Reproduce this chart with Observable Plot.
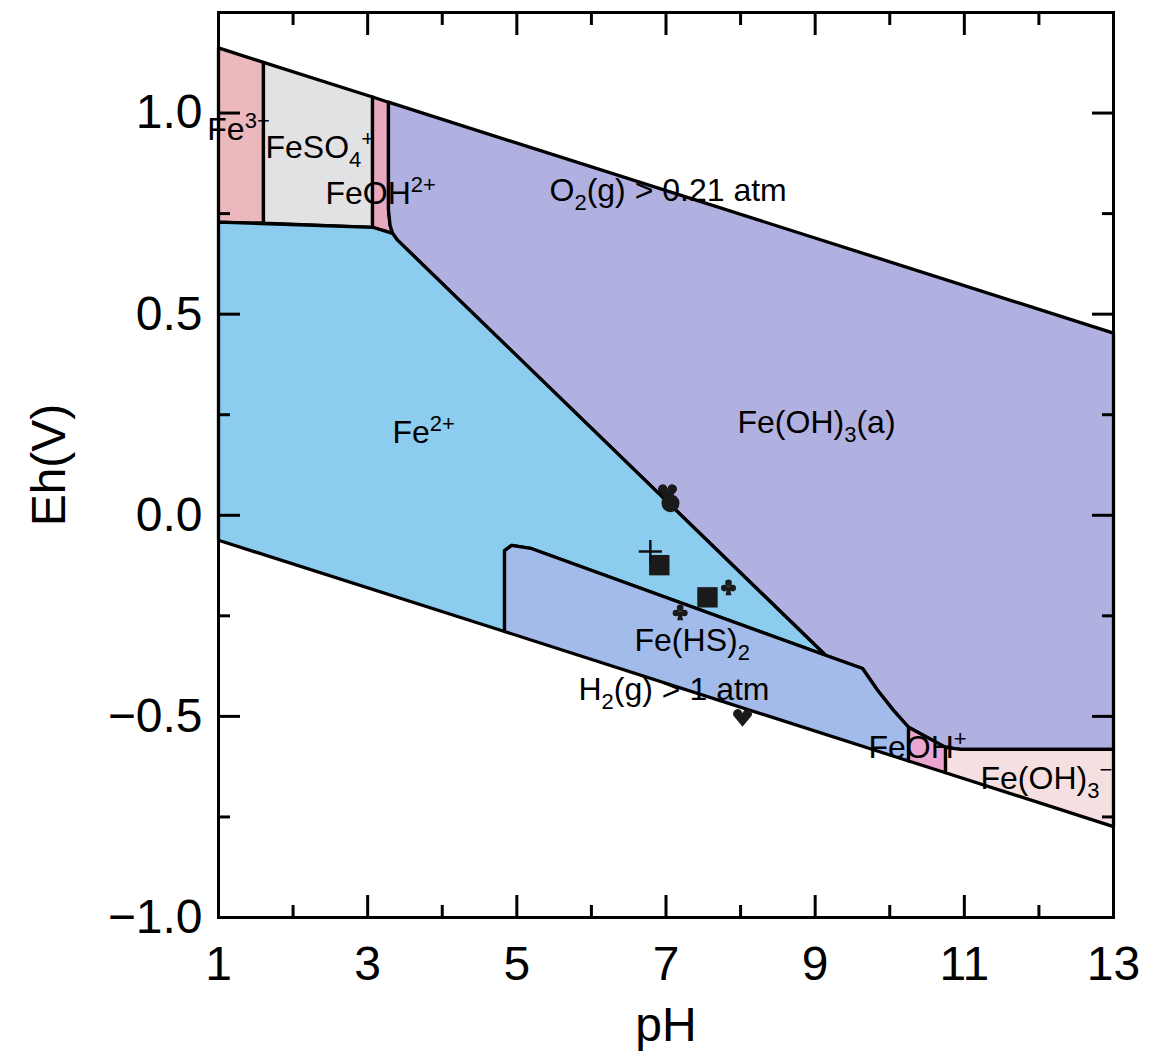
<!DOCTYPE html>
<html><head><meta charset="utf-8">
<script src="https://cdn.jsdelivr.net/npm/d3@7"></script>
<script src="https://cdn.jsdelivr.net/npm/@observablehq/plot@0.6"></script>
<style>body{margin:0;background:#fff} svg{display:block}</style>
</head><body><div id="chart"></div>
<script>
// axis ticks
const xMajor = [1, 3, 5, 7, 9, 11, 13];
const xMinor = [2, 4, 6, 8, 10, 12];
const yMajor = [-1, -0.5, 0, 0.5, 1];
const yMinor = [-0.75, -0.25, 0.25, 0.75];

// stability fields (pH, Eh)
const regionNames = ["Fe3+", "FeSO4+", "FeOH2+", "Fe(OH)3(a)", "Fe2+", "Fe(HS)2", "FeOH+", "Fe(OH)3-"];
const regionColors = ["#ebb9bd", "#e2e2e5", "#e8a9c0", "#b1b1e1", "#8ccdef", "#a3bbea", "#eba6cf", "#f5dfe0"];
const fe3Poly = [[1, 1.162], [1.603, 1.126], [1.603, 0.726], [1, 0.729]];
const feso4Poly = [[1.603, 1.126], [3.065, 1.040], [3.065, 0.716], [1.603, 0.726]];
const feoh2Poly = [[3.065, 1.040], [3.279, 1.027], [3.279, 0.760], [3.30, 0.722], [3.333, 0.701], [3.065, 0.716]];
const feoh3aPoly = [[3.279, 1.027], [13, 0.453], [13, -0.582], [10.95, -0.582], [10.748, -0.577], [10.252, -0.527],
  [10.05, -0.485], [9.836, -0.435], [9.635, -0.381], [9.139, -0.348], [3.40, 0.684], [3.333, 0.701], [3.30, 0.722], [3.279, 0.760]];
const fe2Poly = [[1, 0.729], [3.065, 0.716], [3.333, 0.701], [3.40, 0.684], [9.139, -0.348], [5.183, -0.082],
  [4.93, -0.075], [4.835, -0.088], [4.835, -0.289], [1, -0.062]];
const fehs2Poly = [[4.835, -0.289], [4.835, -0.088], [4.93, -0.075], [5.183, -0.082], [9.139, -0.348], [9.635, -0.381],
  [9.836, -0.435], [10.05, -0.485], [10.252, -0.527], [10.252, -0.611]];
const feohPoly = [[10.252, -0.527], [10.748, -0.577], [10.748, -0.640], [10.252, -0.611]];
const feoh3mPoly = [[10.748, -0.577], [10.95, -0.582], [13, -0.582], [13, -0.774], [10.748, -0.640]];
const polys = [fe3Poly, feso4Poly, feoh2Poly, feoh3aPoly, fe2Poly, fehs2Poly, feohPoly, feoh3mPoly];

// field labels
const labelText = ["Fe^{3+}", "FeSO_{4}^{+}", "FeOH^{2+}", "O_{2}(g) > 0.21 atm", "Fe^{2+}", "Fe(OH)_{3}(a)",
  "Fe(HS)_{2}", "H_{2}(g) > 1 atm", "FeOH^{+}", "Fe(OH)_{3}^{−}"];
const labelPH = [0.85, 1.630, 2.435, 5.438, 3.333, 7.959, 6.578, 5.827, 9.715, 11.217];
const labelEh = [0.958, 0.913, 0.799, 0.808, 0.204, 0.231, -0.311, -0.435, -0.577, -0.654];

// sample points
const markerType = ["heart", "circle", "plus", "square", "square", "club", "club", "heart"];
const markerPH = [7.02, 7.06, 6.79, 6.91, 7.556, 7.838, 7.19, 8.026];
const markerEh = [0.057, 0.030, -0.090, -0.124, -0.204, -0.179, -0.241, -0.502];

const rows = [];
polys.forEach((p, i) => p.forEach(([x, y]) => rows.push({region: regionNames[i], color: regionColors[i], pH: x, Eh: y})));
const labels = labelText.map((t, i) => ({t, pH: labelPH[i], Eh: labelEh[i]}));
const markers = markerType.map((t, i) => ({t, pH: markerPH[i], Eh: markerEh[i]}));
const of = (t) => markers.filter(m => m.t === t);

// heart- and club-shaped dot symbols
const heartSymbol = {
  draw(ctx, size) {
    const r = Math.sqrt(size / Math.PI);
    ctx.moveTo(0, r);
    ctx.lineTo(-0.95 * r, -0.15 * r);
    ctx.arc(-0.5 * r, -0.35 * r, 0.5 * r, 2.72, 2 * Math.PI, false);
    ctx.arc(0.5 * r, -0.35 * r, 0.5 * r, Math.PI, 2 * Math.PI + 0.418, false);
    ctx.closePath();
  }
};
const clubSymbol = {
  draw(ctx, size) {
    const r = Math.sqrt(size / Math.PI), c = 0.33 * r;
    for (const [cx, cy] of [[0, -0.45 * r], [-0.42 * r, 0.08 * r], [0.42 * r, 0.08 * r]]) {
      ctx.moveTo(cx + c, cy);
      ctx.arc(cx, cy, c, 0, 2 * Math.PI);
    }
    ctx.moveTo(-0.08 * r, -0.1 * r);
    ctx.lineTo(0.08 * r, -0.1 * r);
    ctx.lineTo(0.3 * r, 0.8 * r);
    ctx.lineTo(-0.3 * r, 0.8 * r);
    ctx.closePath();
  }
};

const tickAxes = [];
for (const a of ["bottom", "top"]) {
  tickAxes.push(Plot.axisX(xMajor, {anchor: a, tickSize: -22, strokeWidth: 3, tickFormat: () => "", label: null}));
  tickAxes.push(Plot.axisX(xMinor, {anchor: a, tickSize: -12, strokeWidth: 3, tickFormat: () => "", label: null}));
}
for (const a of ["left", "right"]) {
  tickAxes.push(Plot.axisY(yMajor, {anchor: a, tickSize: -22, strokeWidth: 3, tickFormat: () => "", label: null}));
  tickAxes.push(Plot.axisY(yMinor, {anchor: a, tickSize: -12, strokeWidth: 3, tickFormat: () => "", label: null}));
}

const plot = Plot.plot({
  width: 1156, height: 1063,
  marginLeft: 218, marginRight: 43, marginTop: 12, marginBottom: 146,
  style: {fontFamily: "'Liberation Sans', Arial, sans-serif", background: "white", color: "black"},
  x: {domain: [1, 13], label: null},
  y: {domain: [-1, 1.25], label: null},
  color: {type: "identity"},
  marks: [
    Plot.line(rows, {x: "pH", y: "Eh", z: "region", fill: "color", stroke: "black", strokeWidth: 3.3, curve: "linear-closed", strokeLinejoin: "round"}),
    Plot.text(labels, {x: "pH", y: "Eh", text: "t", textAnchor: "start", fontSize: 32, fill: "black"}),
    Plot.dot(of("heart"), {x: "pH", y: "Eh", r: 9.5, fill: "#1a1a1a", symbol: heartSymbol}),
    Plot.dot(of("circle"), {x: "pH", y: "Eh", r: 9, fill: "#1a1a1a", symbol: "circle"}),
    Plot.dot(of("square"), {x: "pH", y: "Eh", r: 11.5, fill: "#1a1a1a", symbol: "square"}),
    Plot.dot(of("plus"), {x: "pH", y: "Eh", r: 7.5, stroke: "#111", strokeWidth: 2.5, symbol: "plus"}),
    Plot.dot(of("club"), {x: "pH", y: "Eh", r: 10, fill: "#1a1a1a", symbol: clubSymbol}),
    Plot.axisX(xMajor, {anchor: "bottom", tickSize: 0, tickPadding: 28, fontSize: 48, tickFormat: d => String(d), label: null}),
    Plot.axisY(yMajor, {anchor: "left", tickSize: 0, tickPadding: 16, fontSize: 48, tickFormat: d3.format(".1f"), label: null}),
    ...tickAxes,
    Plot.text(["pH"], {frameAnchor: "bottom", dy: 89, lineAnchor: "top", fontSize: 48, textAnchor: "middle"}),
    Plot.text(["Eh(V)"], {frameAnchor: "left", rotate: -90, dx: -188, lineAnchor: "top", fontSize: 48, textAnchor: "middle"}),
    Plot.frame({stroke: "black", strokeWidth: 3})
  ]
});

// rich text: ^{sup} and _{sub}
const NS = "http://www.w3.org/2000/svg";
plot.querySelectorAll("text").forEach(el => {
  const s = el.textContent;
  if (!/[\^_]\{/.test(s)) return;
  el.textContent = "";
  const re = /([\^_])\{([^}]*)\}|([^\^_]+)/g;
  let m, shift = 0;
  while ((m = re.exec(s))) {
    const t = document.createElementNS(NS, "tspan");
    let target = 0;
    if (m[1] === "^") { target = -12; t.setAttribute("font-size", 22); t.textContent = m[2]; }
    else if (m[1] === "_") { target = 9; t.setAttribute("font-size", 22); t.textContent = m[2]; }
    else { t.textContent = m[3]; }
    if (target - shift !== 0) t.setAttribute("dy", target - shift);
    shift = target;
    el.appendChild(t);
  }
});
document.getElementById("chart").appendChild(plot);
</script>
</body></html>
